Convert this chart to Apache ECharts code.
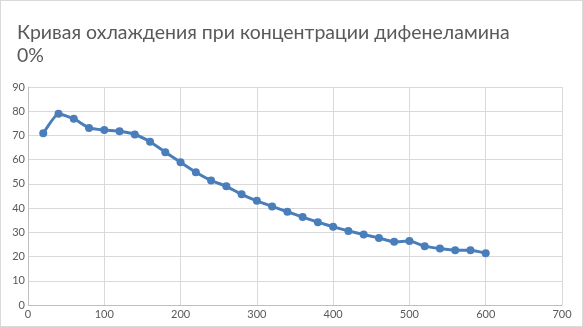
<!DOCTYPE html>
<html><head><meta charset="utf-8">
<script src="https://cdn.jsdelivr.net/npm/echarts@6/dist/echarts.min.js"></script>
<style>html,body{margin:0;padding:0;background:#fff}#c{width:583px;height:327px;box-sizing:border-box;border:1px solid #d9d9d9}</style>
</head><body><div id="c"></div>
<script>
var titleText = 'Кривая охлаждения при концентрации дифенеламина\n0%';
var times = [20,40,60,80,100,120,140,160,180,200,220,240,260,280,300,320,340,360,380,400,420,440,460,480,500,520,540,560,580,600];
var temps = [70.9,79.0,76.9,73.1,72.2,71.7,70.4,67.4,63.1,58.9,54.8,51.4,49.0,45.7,43.0,40.7,38.5,36.3,34.2,32.3,30.6,29.1,27.7,26.1,26.4,24.3,23.3,22.6,22.6,21.4];
var xTicks = {min:0, max:700, interval:100};
var yTicks = {min:0, max:90, interval:10};
var data = times.map(function(t,i){return [t,temps[i]];});
var chart = echarts.init(document.getElementById('c'));
chart.setOption({
  animation:false,
  title:{text:titleText,left:11,top:15,textStyle:{fontFamily:'Lato',fontWeight:'normal',fontSize:19.5,color:'#595959',lineHeight:23}},
  grid:{left:27,right:20,top:86,bottom:21,containLabel:false},
  xAxis:{type:'value',min:xTicks.min,max:xTicks.max,interval:xTicks.interval,
    axisLine:{show:true,lineStyle:{color:'#bfbfbf'}},axisTick:{show:false},
    axisLabel:{color:'#595959',fontFamily:'Lato',fontSize:11,margin:4},
    splitLine:{show:true,lineStyle:{color:'#d9d9d9'}}},
  yAxis:{type:'value',min:yTicks.min,max:yTicks.max,interval:yTicks.interval,
    axisLine:{show:true,lineStyle:{color:'#bfbfbf'}},axisTick:{show:false},
    axisLabel:{color:'#595959',fontFamily:'Lato',fontSize:11,margin:3},
    splitLine:{show:true,lineStyle:{color:'#d9d9d9'}}},
  series:[{type:'line',data:data,smooth:0.15,symbol:'circle',symbolSize:8,
    lineStyle:{color:'#4A7EBB',width:3},itemStyle:{color:'#4A7EBB'}}]
});
</script></body></html>
